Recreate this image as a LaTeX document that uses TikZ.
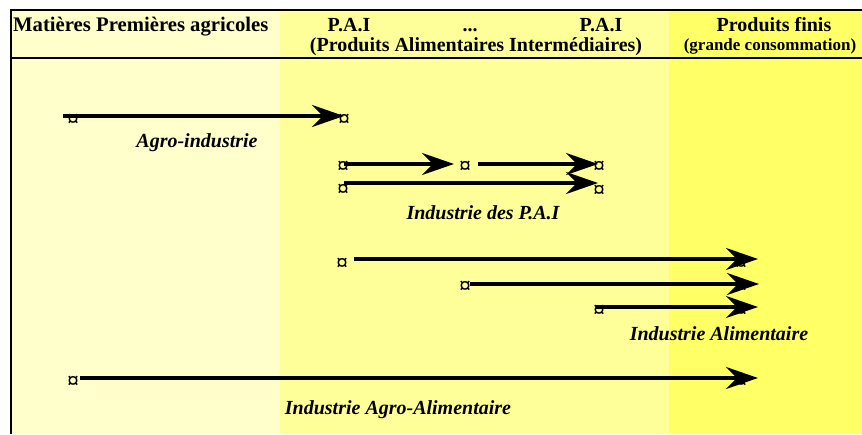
\documentclass[tikz,border=0pt]{standalone}
\usepackage{fontspec}
\setmainfont{Liberation Serif}
\usetikzlibrary{arrows.meta}
\definecolor{palecol}{HTML}{FFFFCC}
\definecolor{midcol}{HTML}{FFFF99}
\definecolor{fincol}{HTML}{FFFF66}
\tikzset{
  head/.style={font=\fontsize{20}{23}\selectfont\bfseries, anchor=base, inner sep=0pt},
  subhead/.style={font=\fontsize{17}{20}\selectfont\bfseries, anchor=base, inner sep=0pt},
  lab/.style={font=\fontsize{20}{23}\selectfont\bfseries\itshape, anchor=base, inner sep=0pt},
  mk/.style={font=\fontsize{23}{23}\selectfont\bfseries, inner sep=0pt},
  flow/.style={line width=4pt, -{Stealth[length=32pt,width=22pt,inset=11pt]}},
  frame/.style={line width=2pt}
}
\begin{document}
\begin{tikzpicture}[x=1pt,y=-1pt]
\useasboundingbox (0,0) rectangle (862,434);
% column backgrounds
\fill[palecol] (10,10) rectangle (280,434);
\fill[midcol] (280,10) rectangle (669,434);
\fill[fincol] (669,10) rectangle (862,434);
% frame lines
\draw[frame] (862,10) -- (11,10) -- (11,434);
\draw[frame] (10,58) -- (862,58);

% header
\node[head, anchor=base west, font=\fontsize{20.7}{23}\selectfont\bfseries] (hmp) at (13,31) {Matières Premières agricoles};
\node[head] (hpa1) at (349,31) {P.A.I};
\node[head] (hdots) at (470,31) {...};
\node[head] (hpa2) at (601,31) {P.A.I};
\node[head] (hpai) at (476,51) {(Produits Alimentaires Intermédiaires)};
\node[head] (hpf) at (774,31) {Produits finis};
\node[subhead] (hgc) at (770,50) {(grande consommation)};

% markers
\node[mk] (m1) at (73,120) {¤};
\node[mk] (m2) at (344,120) {¤};
\node[mk] (m3) at (343,167) {¤};
\node[mk] (m4) at (465,167) {¤};
\node[mk] (m5) at (599,167) {¤};
\node[mk] (m6) at (343,190) {¤};
\node[mk] (m7) at (599,191) {¤};
\node[mk] (m8) at (342,264) {¤};
\node[mk] (m9) at (465,287) {¤};
\node[mk] (m10) at (599,311) {¤};
\node[mk] (m11) at (741,264) {¤};
\node[mk] (m12) at (741,287) {¤};
\node[mk] (m13) at (741,311) {¤};
\node[mk] (m14) at (73,382) {¤};
\node[mk] (m15) at (741,382) {¤};

% arrow end points
\coordinate (a1s) at (63,116);   \coordinate (a1e) at (344,116);
\coordinate (b1s) at (344,164);  \coordinate (b1e) at (454,164);
\coordinate (b2s) at (478,164);  \coordinate (b2e) at (598,164);
\coordinate (b3s) at (344,183);  \coordinate (b3e) at (598,183);
\coordinate (c1s) at (354,259);  \coordinate (c1e) at (758,259);
\coordinate (c2s) at (470,284);  \coordinate (c2e) at (759,284);
\coordinate (c3s) at (596,307);  \coordinate (c3e) at (758,307);
\coordinate (d1s) at (80,378);   \coordinate (d1e) at (758,378);

% flows
\draw[flow] (a1s) -- (a1e);
\draw[flow] (b1s) -- (b1e);
\draw[flow] (b2s) -- (b2e);
\draw[flow] (b3s) -- (b3e);
\draw[flow] (c1s) -- (c1e);
\draw[flow] (c2s) -- (c2e);
\draw[flow] (c3s) -- (c3e);
\draw[flow] (d1s) -- (d1e);

% labels
\node[lab] (lagro) at (197,147) {Agro-industrie};
\node[lab] (lpai) at (483,219) {Industrie des P.A.I};
\node[lab] (lali) at (719,340) {Industrie Alimentaire};
\node[lab] (liaa) at (398,414) {Industrie Agro-Alimentaire};
\end{tikzpicture}
\end{document}
